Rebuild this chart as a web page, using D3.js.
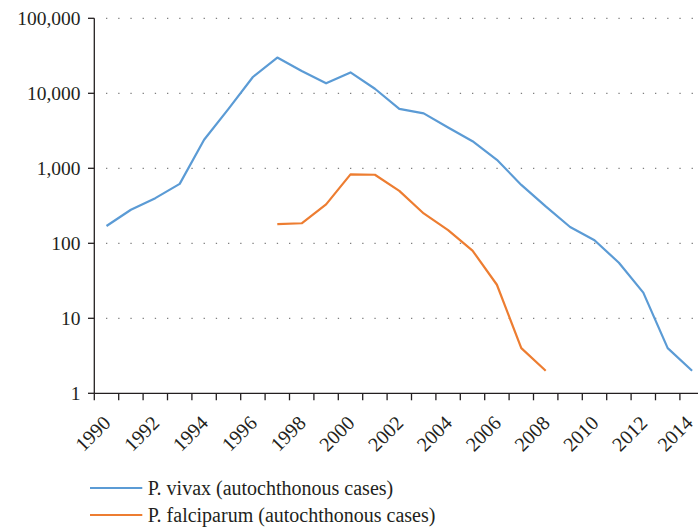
<!DOCTYPE html>
<html><head><meta charset="utf-8">
<script src="https://cdn.jsdelivr.net/npm/d3@7"></script>
<style>body{margin:0;background:#fff;} svg{display:block;} text{font-family:"Liberation Serif","DejaVu Serif",serif;fill:#231f20;}</style>
</head><body>
<svg id="c" width="698" height="529"></svg>
<script>
const years = d3.range(1990, 2015);
const yearLabels = [1990,1992,1994,1996,1998,2000,2002,2004,2006,2008,2010,2012,2014];
const vivax = [170,280,400,620,2400,6200,16500,30000,19800,13600,19000,11500,6200,5400,3500,2300,1300,600,310,165,110,55,22,4,2];
const falciparumYears = [1997,1998,1999,2000,2001,2002,2003,2004,2005,2006,2007,2008];
const falciparum = [180,185,330,830,820,500,250,150,80,28,4,2];
const yTicks = [1,10,100,1000,10000,100000];
const seriesNames = ["P. vivax (autochthonous cases)","P. falciparum (autochthonous cases)"];
const colors = ["#5b9bd5","#ed7d31"];

const svg = d3.select("#c");
const x = d3.scaleBand().domain(years).range([94.3, 704.3]).padding(0);
const y = d3.scaleLog().domain([1,100000]).range([393.3, 18.3]);
const cx = d => x(d) + x.bandwidth()/2;

// gridlines
svg.append("g").selectAll("line").data(yTicks.filter(d=>d>1)).join("line")
  .attr("x1", 106).attr("x2", 698).attr("y1", d=>y(d)).attr("y2", d=>y(d))
  .attr("stroke", "#7f7f7f").attr("stroke-width", 1.2).attr("stroke-dasharray", "1.3,10.9");

// y axis
const ya = svg.append("g");
ya.append("line").attr("x1",94.3).attr("x2",94.3).attr("y1",y(100000)).attr("y2",y(1)).attr("stroke","#231f20").attr("stroke-width",1.3);
ya.selectAll(".t").data(yTicks).join("line").attr("x1",88).attr("x2",94.3).attr("y1",d=>y(d)).attr("y2",d=>y(d)).attr("stroke","#231f20").attr("stroke-width",1.3);
ya.selectAll("text").data(yTicks).join("text").attr("x",80.5).attr("y",d=>y(d)).attr("dy","0.33em")
  .attr("text-anchor","end").style("font-size","19.5px").text(d=>d3.format(",")(d));

// x axis
const xa = svg.append("g");
xa.append("line").attr("x1",94.3).attr("x2",704.3).attr("y1",y(1)).attr("y2",y(1)).attr("stroke","#231f20").attr("stroke-width",1.3);
xa.selectAll(".t").data(years.concat([null])).join("line")
  .attr("x1",d=>d===null? x(years[years.length-1])+x.bandwidth() : x(d))
  .attr("x2",d=>d===null? x(years[years.length-1])+x.bandwidth() : x(d))
  .attr("y1",y(1)).attr("y2",y(1)+7).attr("stroke","#231f20").attr("stroke-width",1.3);
xa.selectAll("text").data(yearLabels).join("text")
  .attr("transform", d=>`translate(${Math.min(cx(d)+5.3, 694)},${y(1)+31}) rotate(-45)`)
  .attr("text-anchor","end").style("font-size","20px").text(d=>d);

// lines
const line = d3.line().x(d=>cx(d[0])).y(d=>y(d[1]));
svg.append("path").datum(years.map((yr,i)=>[yr,vivax[i]])).attr("d",line)
  .attr("fill","none").attr("stroke",colors[0]).attr("stroke-width",2.2).attr("stroke-linejoin","round");
svg.append("path").datum(falciparumYears.map((yr,i)=>[yr,falciparum[i]])).attr("d",line)
  .attr("fill","none").attr("stroke",colors[1]).attr("stroke-width",2.2).attr("stroke-linejoin","round");

// legend
const lg = svg.append("g");
seriesNames.forEach((n,i)=>{
  const yy = 488 + i*27;
  lg.append("line").attr("x1",90).attr("x2",142.3).attr("y1",yy).attr("y2",yy).attr("stroke",colors[i]).attr("stroke-width",2);
  lg.append("text").attr("x",147.7).attr("y",yy+6.5).style("font-size","20px").text(n);
});
</script>
</body></html>
